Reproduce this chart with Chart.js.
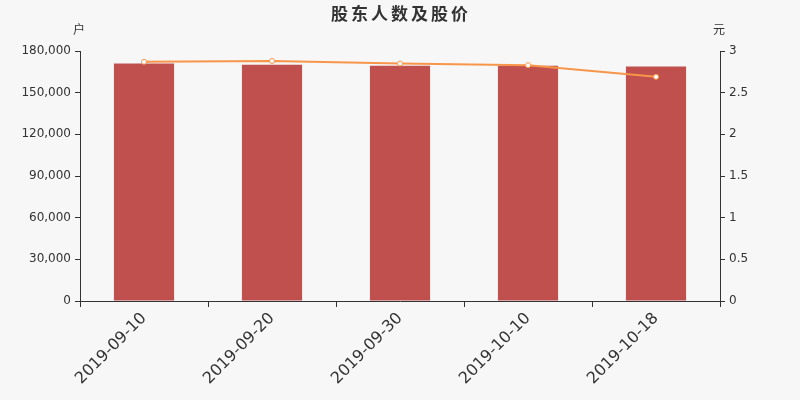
<!DOCTYPE html>
<html>
<head>
<meta charset="utf-8">
<script src="https://cdn.jsdelivr.net/npm/chart.js@4/dist/chart.umd.min.js"></script>
<style>
  html, body { margin: 0; padding: 0; background: #f7f7f7; }
  #wrap { width: 800px; height: 400px; }
</style>
</head>
<body>
<div id="wrap"><canvas id="c" width="800" height="400"></canvas></div>
<script>
// data
const dates = ['2019-09-10', '2019-09-20', '2019-09-30', '2019-10-10', '2019-10-18'];
const holders = [171000, 170100, 169400, 169300, 168900]; // 户
const prices = [2.87, 2.88, 2.85, 2.83, 2.69];             // 元
const holderTicks = [0, 30000, 60000, 90000, 120000, 150000, 180000];
const priceTicks = [0, 0.5, 1, 1.5, 2, 2.5, 3];

const fontFamily = '"DejaVu Sans", "Noto Sans CJK SC", sans-serif';

// paints the grey background, the spaced-out title and the unit labels
const decor = {
  id: 'decor',
  beforeDraw(chart) {
    const ctx = chart.ctx;
    ctx.save();
    ctx.fillStyle = '#f7f7f7';
    ctx.fillRect(0, 0, chart.width, chart.height);
    ctx.restore();
  },
  afterDraw(chart) {
    const ctx = chart.ctx;
    const area = chart.chartArea;
    ctx.save();
    ctx.fillStyle = '#333';
    ctx.textAlign = 'center';
    ctx.textBaseline = 'middle';
    ctx.font = 'bold 17px "Noto Sans CJK SC", sans-serif';
    ctx.letterSpacing = '3px';
    ctx.fillText('股东人数及股价', chart.width / 2 + 1, 14);
    ctx.letterSpacing = '0px';
    ctx.font = '12px "Noto Sans CJK SC", sans-serif';
    ctx.fillText('户', area.left - 1, area.top - 22);
    ctx.fillText('元', area.right - 1, area.top - 22);
    ctx.restore();
  }
};

const ctx = document.getElementById('c').getContext('2d');
const chart = new Chart(ctx, {
  data: {
    labels: dates,
    datasets: [
      {
        type: 'line',
        label: '股价',
        data: prices,
        yAxisID: 'y1',
        borderColor: '#f7964a',
        borderWidth: 2,
        pointRadius: 2.5,
        pointBackgroundColor: '#ffffff',
        pointBorderColor: '#f7964a',
        pointBorderWidth: 1,
        tension: 0,
        order: 0
      },
      {
        type: 'bar',
        label: '股东人数',
        data: holders,
        yAxisID: 'y',
        backgroundColor: '#c0504d',
        barPercentage: 0.47,
        categoryPercentage: 1,
        order: 1
      }
    ]
  },
  options: {
    responsive: false,
    animation: false,
    devicePixelRatio: 1,
    layout: { padding: { top: 51, right: 0, left: 0, bottom: 0 } },
    plugins: {
      legend: { display: false },
      tooltip: { enabled: false },
      title: { display: false }
    },
    scales: {
      x: {
        offset: true,
        grid: { display: true, drawOnChartArea: false, drawTicks: true, tickLength: 6, color: '#333', offset: true },
        border: { color: '#333', width: 1 },
        ticks: {
          color: '#333',
          font: { family: fontFamily, size: 16 },
          maxRotation: 45,
          minRotation: 45,
          padding: 2
        },
        afterFit(scale) { scale.height = 99; }
      },
      y: {
        position: 'left',
        min: 0,
        max: 180000,
        afterBuildTicks(scale) { scale.ticks = holderTicks.map(v => ({ value: v })); },
        grid: { display: true, drawOnChartArea: false, drawTicks: true, tickLength: 5, color: '#333' },
        border: { color: '#333', width: 1 },
        ticks: {
          color: '#333',
          font: { family: fontFamily, size: 12 },
          padding: 4,
          callback: v => v.toLocaleString('en-US')
        },
        afterFit(scale) { scale.width = 80; }
      },
      y1: {
        position: 'right',
        min: 0,
        max: 3,
        afterBuildTicks(scale) { scale.ticks = priceTicks.map(v => ({ value: v })); },
        grid: { display: true, drawOnChartArea: false, drawTicks: true, tickLength: 5, color: '#333' },
        border: { color: '#333', width: 1 },
        ticks: {
          color: '#333',
          font: { family: fontFamily, size: 12 },
          padding: 4,
          callback: v => String(v)
        },
        afterFit(scale) { scale.width = 80; }
      }
    }
  },
  plugins: [decor]
});
</script>
</body>
</html>
